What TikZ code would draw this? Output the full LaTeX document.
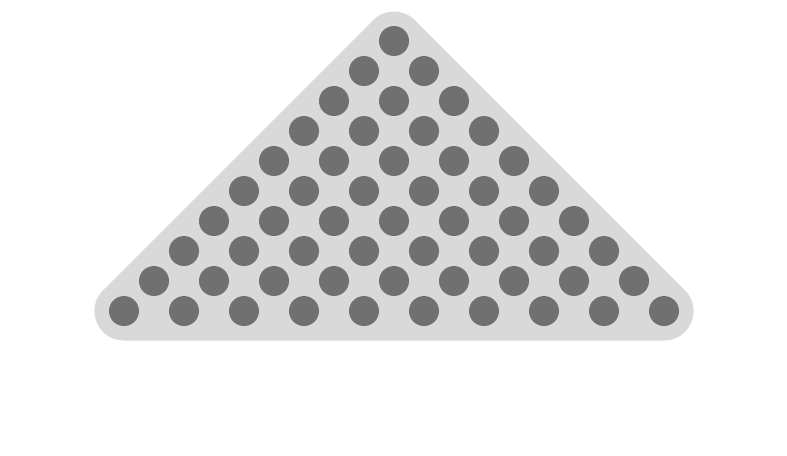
\documentclass[tikz,border=0pt]{standalone}
\definecolor{ballgray}{HTML}{707070}
\definecolor{rackgray}{HTML}{D9D9D9}
\begin{document}
\begin{tikzpicture}[x=0.5cm, y=-0.5cm]
		\tikzset{ball/.style={circle, fill=ballgray, minimum size=0.5cm, inner sep=0pt}}
		\useasboundingbox (0,0) rectangle (26.233,15.167);
		% Rack (rounded triangle)
		\coordinate (apex) at (13.133,1.367);
		\coordinate (left) at (4.133,10.367);
		\coordinate (right) at (22.133,10.367);
		\draw[rackgray, fill=rackgray, line width=0.983cm, line join=round] (apex) -- (left) -- (right) -- cycle;
		% Balls, row k has k+1 balls
		\foreach \k in {0,...,9} {
			\foreach \j in {0,...,\k} {
				\node[ball] (b-\k-\j) at ({13.133+2*\j-\k},{1.367+\k}) {};
			}
		}
	\end{tikzpicture}
\end{document}
